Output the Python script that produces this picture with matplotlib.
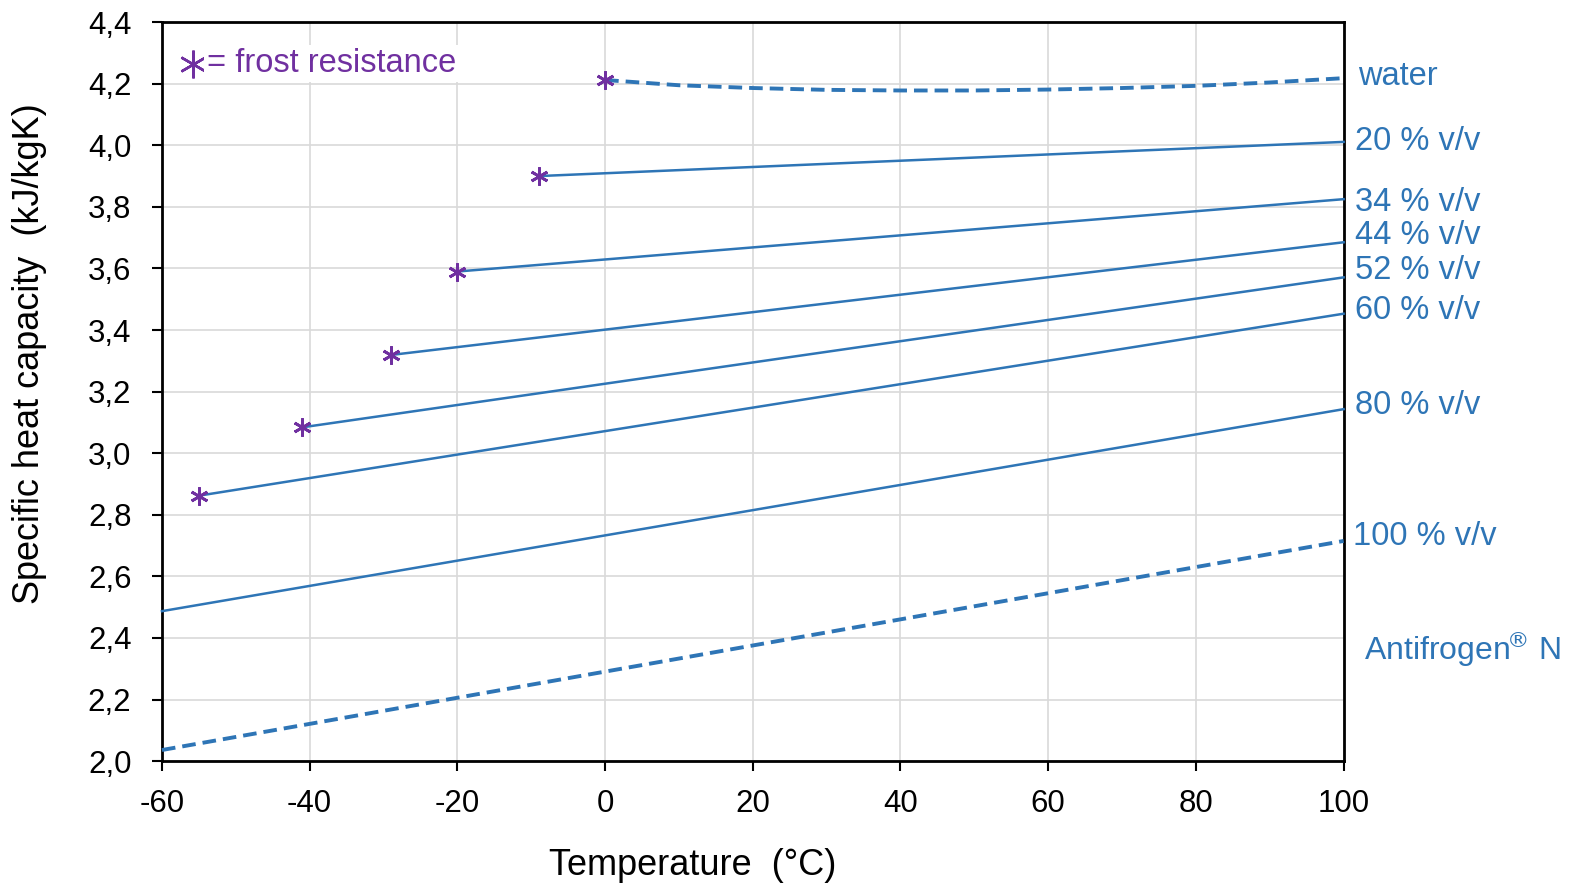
import matplotlib
matplotlib.use("Agg")
import matplotlib.pyplot as plt
from matplotlib.ticker import FuncFormatter

plt.rcParams['font.family'] = ['Liberation Sans', 'DejaVu Sans']
plt.rcParams['axes.unicode_minus'] = False

BLUE = '#2E75B6'
PURPLE = '#7030A0'

# Water (dashed, measured curve)
water_t = [0, 10, 20, 30, 40, 50, 60, 70, 80, 90, 100]
water_cp = [4.212, 4.195, 4.186, 4.180, 4.178, 4.178, 4.181, 4.186, 4.193, 4.204, 4.218]

# Antifrogen N mixtures: (label, start temp = frost resistance, cp at start, cp at 100 C)
mix_labels = ['20 % v/v', '34 % v/v', '44 % v/v', '52 % v/v', '60 % v/v', '80 % v/v', '100 % v/v']
mix_t_start = [-9, -20, -29, -41, -55, -60, -60]
mix_cp_start = [3.900, 3.590, 3.319, 3.084, 2.862, 2.487, 2.036]
mix_cp_end = [4.011, 3.825, 3.685, 3.571, 3.453, 3.143, 2.715]
mix_frost = [True, True, True, True, True, False, False]
mix_dashed = [False, False, False, False, False, False, True]

label_y = [4.012, 3.815, 3.708, 3.592, 3.465, 3.155, 2.73]
water_label_y = 4.225

fig = plt.figure(figsize=(15.77, 8.85), dpi=100)
ax = fig.add_axes([0.1027, 0.140, 0.7493, 0.835])

ax.set_xlim(-60, 100)
ax.set_ylim(2.0, 4.4)
ax.set_xticks(range(-60, 101, 20))
ax.set_yticks([2.0 + 0.2 * i for i in range(13)])
ax.yaxis.set_major_formatter(FuncFormatter(lambda v, p: f"{v:.1f}".replace('.', ',')))
ax.grid(True, color='#D9D9D9', linewidth=1.2)
ax.set_axisbelow(True)
for s in ax.spines.values():
    s.set_color('black')
    s.set_linewidth(2)
ax.tick_params(axis='both', direction='out', length=7, width=1.5, labelsize=22.5, colors='black')
ax.tick_params(axis='x', pad=13)
ax.tick_params(axis='y', pad=15)

mark = (6, 2, 0)
LS = 23.5

# water
ax.plot(water_t, water_cp, color=BLUE, linewidth=2.8, linestyle=(0, (3.5, 1.8)), clip_on=False, zorder=3)
ax.plot([water_t[0]], [water_cp[0]], marker=mark, markersize=13, markeredgewidth=2,
        color=PURPLE, linestyle='none', zorder=4)
ax.text(102.0, water_label_y, 'water', color=BLUE, fontsize=LS, va='center', ha='left', clip_on=False)

for lab, t0, c0, c1, fr, dsh, ly in zip(mix_labels, mix_t_start, mix_cp_start, mix_cp_end,
                                         mix_frost, mix_dashed, label_y):
    if dsh:
        ax.plot([t0, 100], [c0, c1], color=BLUE, linewidth=2.8, linestyle=(0, (3.5, 1.8)),
                clip_on=False, zorder=3)
    else:
        ax.plot([t0, 100], [c0, c1], color=BLUE, linewidth=1.8, clip_on=False, zorder=3)
    if fr:
        ax.plot([t0], [c0], marker=mark, markersize=13, markeredgewidth=2,
                color=PURPLE, linestyle='none', zorder=4)
    xoff = 101.3 if lab == '100 % v/v' else 101.6
    ax.text(xoff, ly, lab, color=BLUE, fontsize=LS, va='center', ha='left', clip_on=False)

ax.text(102.8, 2.365, 'Antifrogen$^{\\!®}$ N', color=BLUE, fontsize=23, va='center', ha='left', clip_on=False)

# frost resistance legend
ax.plot([0.0265], [0.944], marker=mark, markersize=20, markeredgewidth=1.8, color=PURPLE,
        linestyle='none', transform=ax.transAxes, zorder=5)
ax.text(0.038, 0.944, '= frost resistance', color=PURPLE, fontsize=LS, va='center', ha='left',
        transform=ax.transAxes, zorder=5,
        bbox=dict(facecolor='white', edgecolor='none', pad=2))

ax.set_xlabel('Temperature  (°C)', fontsize=26)
ax.xaxis.set_label_coords(0.449, -0.118)
ax.xaxis.label.set_va('top')
ax.set_ylabel('Specific heat capacity  (kJ/kgK)', fontsize=26)
ax.yaxis.set_label_coords(-0.097, 0.551)

fig.savefig('out.png', dpi=100)
